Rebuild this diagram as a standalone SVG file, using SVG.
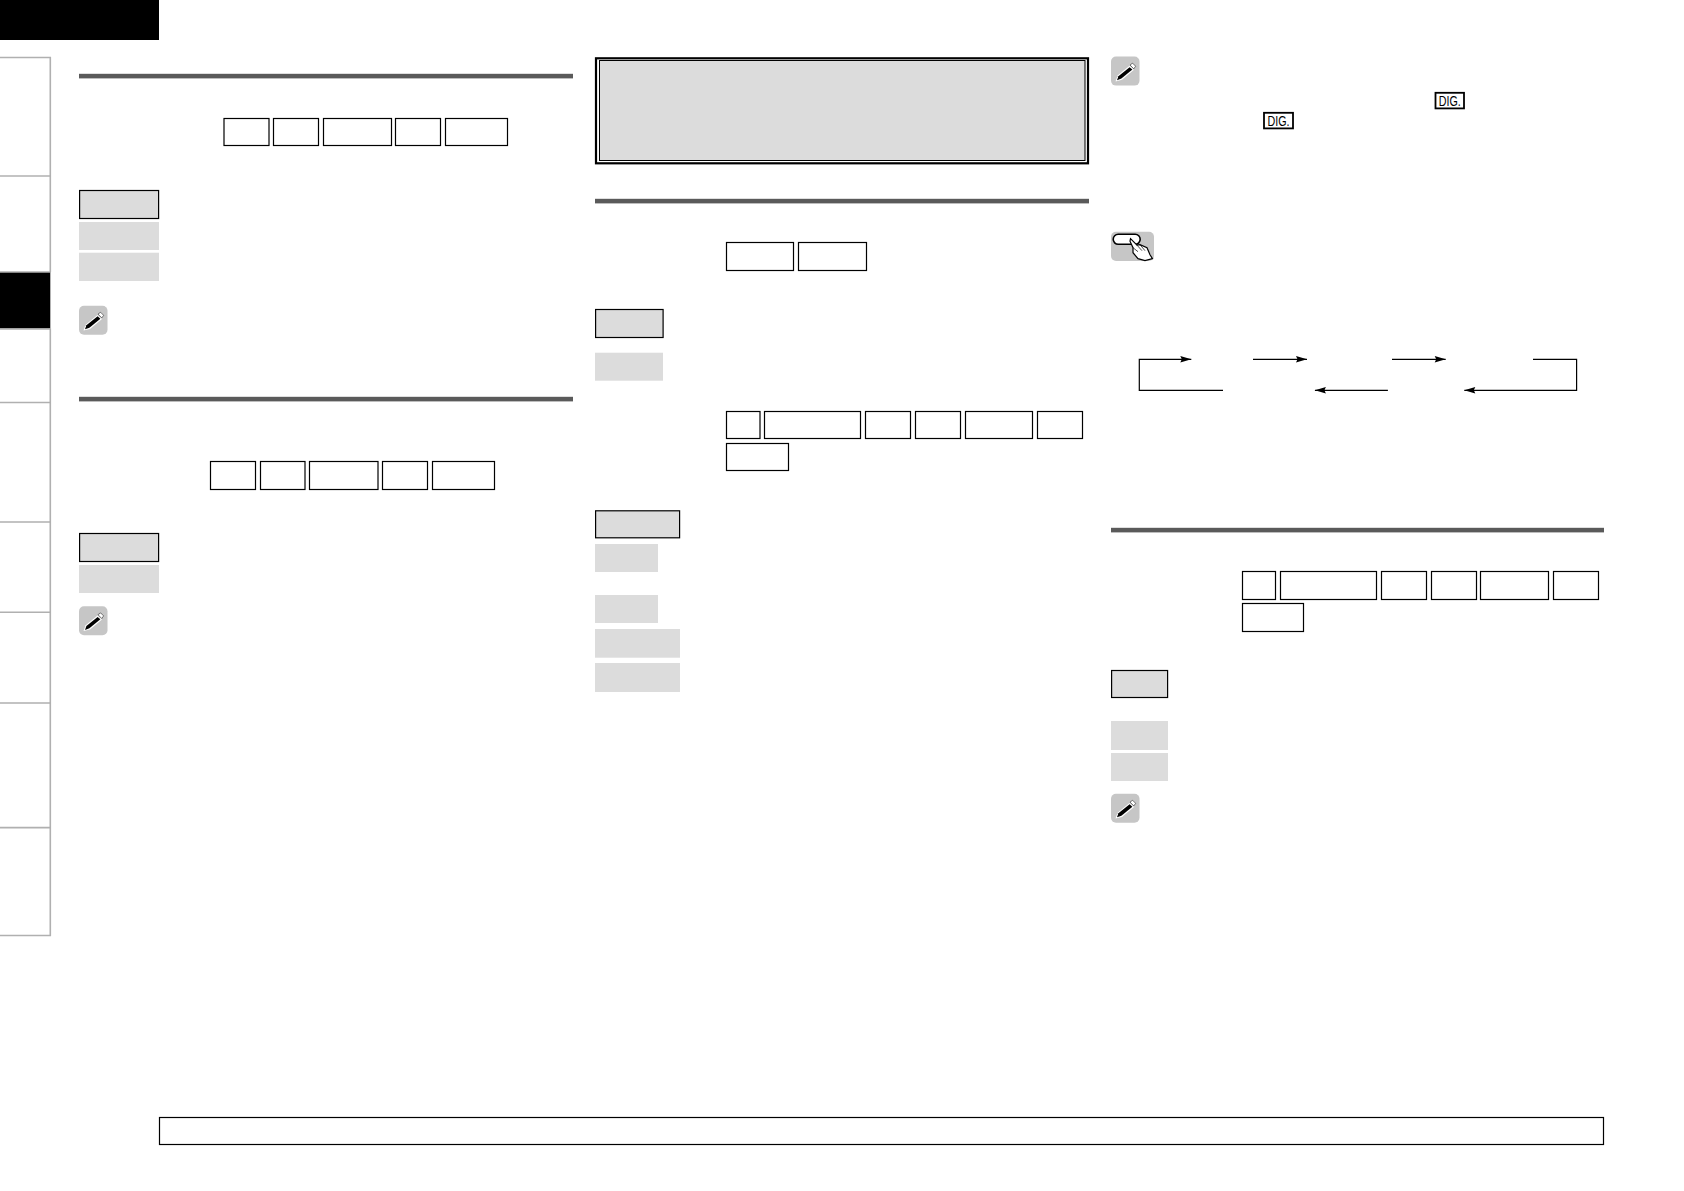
<svg xmlns="http://www.w3.org/2000/svg" width="1684" height="1191" viewBox="0 0 1684 1191">
<style>
.rule{fill:#5a5a5a}
.box{fill:#fff;stroke:#000;stroke-width:1.2}
.on{fill:#dcdcdc;stroke:#000;stroke-width:1.2}
.opt{fill:#dcdcdc}
.tab{fill:none;stroke:#b0b0b0;stroke-width:1.6}
.icon{fill:#c6c6c6}
.flow{fill:none;stroke:#000;stroke-width:1.2;marker-end:url(#arrow)}
.dig{fill:#fff;stroke:#000;stroke-width:1.8}
.digt{font-family:"Liberation Sans",Arial,sans-serif;font-size:15.5px;fill:#000}
</style>
<defs>
<marker id="arrow" markerUnits="userSpaceOnUse" markerWidth="13" markerHeight="9" refX="11.5" refY="4.5" orient="auto">
<path d="M0.5 1.2 L11.5 4.5 L0.5 7.8 L2 4.5 Z" fill="#000"/>
</marker>
<g id="pencil">
<rect class="icon" width="28.5" height="29" rx="5"/>
<path d="M4.5 24.8 L6.6 19 L18.5 9.2 L23 13.2 L11 23.2 Z" fill="#fff"/>
<path d="M6 23.6 L7.4 19.6 L18.6 10.6 L21.4 13 L10.4 22 Z" fill="#000"/>
<path d="M19 8.4 L21.6 6.6 L24.6 9.6 L22.8 12.2 Z" fill="#fff" stroke="#000" stroke-width="0.5"/>
</g>
</defs>
<rect width="1684" height="1191" fill="#fff"/>

<g id="header"><rect width="159" height="40" fill="#000"/></g>

<g id="sidebar">
<path class="tab" d="M0 57.5 H50.3 V272"/>
<path class="tab" d="M0 176 H50.3"/>
<rect id="tab-active" x="0" y="272" width="50.3" height="56.5" fill="#000"/>
<path class="tab" d="M0 329 H50.3 V935.5 H0"/>
<path class="tab" d="M0 272 H50.3"/>
<path class="tab" d="M0 402.5 H50.3 M0 522 H50.3 M0 612.3 H50.3 M0 703 H50.3 M0 827.6 H50.3"/>
</g>

<g id="section-1">
<rect class="rule" x="79" y="73.8" width="494" height="4.6"/>
<rect class="box" x="224" y="118.5" width="45" height="27"/>
<rect class="box" x="273.5" y="118.5" width="45" height="27"/>
<rect class="box" x="323.5" y="118.5" width="68" height="27"/>
<rect class="box" x="395.5" y="118.5" width="45" height="27"/>
<rect class="box" x="445.5" y="118.5" width="62" height="27"/>
<rect class="on" x="79.6" y="190.5" width="79" height="28"/>
<rect class="opt" x="79" y="222" width="80" height="28"/>
<rect class="opt" x="79" y="252.7" width="80" height="28.3"/>
<use href="#pencil" x="79" y="305.7"/>
</g>

<g id="section-2">
<rect class="rule" x="79" y="396.8" width="494" height="4.6"/>
<rect class="box" x="210.5" y="461.5" width="45" height="28"/>
<rect class="box" x="260.5" y="461.5" width="44.5" height="28"/>
<rect class="box" x="309.5" y="461.5" width="68.5" height="28"/>
<rect class="box" x="382.5" y="461.5" width="45" height="28"/>
<rect class="box" x="432.5" y="461.5" width="62" height="28"/>
<rect class="on" x="79.6" y="533.5" width="79" height="28"/>
<rect class="opt" x="79" y="565" width="80" height="28"/>
<use href="#pencil" x="79" y="606.3"/>
</g>

<g id="title-box">
<rect x="596" y="58.3" width="492" height="105" fill="#fff" stroke="#000" stroke-width="2.2"/>
<rect x="599.5" y="60.5" width="485.5" height="100" fill="#dcdcdc" stroke="#000" stroke-width="1"/>
</g>

<g id="section-3">
<rect class="rule" x="595" y="198.8" width="494" height="4.6"/>
<rect class="box" x="726.5" y="242.5" width="67" height="28"/>
<rect class="box" x="798.5" y="242.5" width="68" height="28"/>
<rect class="on" x="595.6" y="309.5" width="67.5" height="28"/>
<rect class="opt" x="595" y="352.7" width="68" height="28"/>
<rect class="box" x="726.5" y="411.5" width="33.5" height="27"/>
<rect class="box" x="764.5" y="411.5" width="96" height="27"/>
<rect class="box" x="865.5" y="411.5" width="45" height="27"/>
<rect class="box" x="915.5" y="411.5" width="45" height="27"/>
<rect class="box" x="965.5" y="411.5" width="67" height="27"/>
<rect class="box" x="1037.5" y="411.5" width="45" height="27"/>
<rect class="box" x="726.5" y="443.5" width="62" height="27"/>
<rect class="on" x="595.6" y="510.8" width="84" height="27"/>
<rect class="opt" x="595" y="544" width="63" height="28"/>
<rect class="opt" x="595" y="595" width="63" height="28"/>
<rect class="opt" x="595" y="629" width="85" height="28.7"/>
<rect class="opt" x="595" y="663" width="85" height="29"/>
</g>

<g id="note-3">
<use href="#pencil" x="1111" y="56.6"/>
<rect class="dig" x="1435.5" y="92.8" width="28.5" height="15.6"/>
<text class="digt" x="1449.8" y="106" text-anchor="middle" textLength="22" lengthAdjust="spacingAndGlyphs">DIG.</text>
<rect class="dig" x="1264" y="112.8" width="29" height="15.6"/>
<text class="digt" x="1278.5" y="126" text-anchor="middle" textLength="22" lengthAdjust="spacingAndGlyphs">DIG.</text>
</g>

<g id="hand-icon" transform="translate(1111 231.7)">
<rect class="icon" width="43" height="29.3" rx="5"/>
<rect x="2.2" y="2.6" width="27" height="10" rx="5" fill="#fff" stroke="#000" stroke-width="1.6"/>
<path d="M19.5 7 L26 13.5 L29 13 L36 16 L39 23 L41.5 27 L34 29 L27 27 L22 21 L22 16 L19 9.5 Z" fill="#fff" stroke="#000" stroke-width="1.2"/>
<path d="M26 13.5 L31 19 M29 13 L34 19 M22 16 L27 20" fill="none" stroke="#000" stroke-width="0.7"/>
</g>

<g id="connectors">
<path class="flow" d="M1223 390.3 H1139.3 V359.3 H1191.3"/>
<path class="flow" d="M1253 359.3 H1307"/>
<path class="flow" d="M1392 359.3 H1445.7"/>
<path class="flow" d="M1533 359.3 H1576.6 V390.3 H1464.3"/>
<path class="flow" d="M1387.9 390.3 H1314.9"/>
</g>

<g id="section-4">
<rect class="rule" x="1111" y="527.8" width="493" height="4.6"/>
<rect class="box" x="1242.5" y="571.5" width="33" height="28"/>
<rect class="box" x="1280.5" y="571.5" width="96" height="28"/>
<rect class="box" x="1381.5" y="571.5" width="45" height="28"/>
<rect class="box" x="1431.5" y="571.5" width="45" height="28"/>
<rect class="box" x="1480.5" y="571.5" width="68" height="28"/>
<rect class="box" x="1553.5" y="571.5" width="45" height="28"/>
<rect class="box" x="1242.5" y="603.5" width="61" height="28"/>
<rect class="on" x="1111.6" y="670.5" width="56" height="27"/>
<rect class="opt" x="1111" y="721" width="57" height="29"/>
<rect class="opt" x="1111" y="753" width="57" height="28"/>
<use href="#pencil" x="1111" y="793.7"/>
</g>

<g id="footer"><rect class="box" x="159.5" y="1117.5" width="1444" height="27"/></g>
</svg>
